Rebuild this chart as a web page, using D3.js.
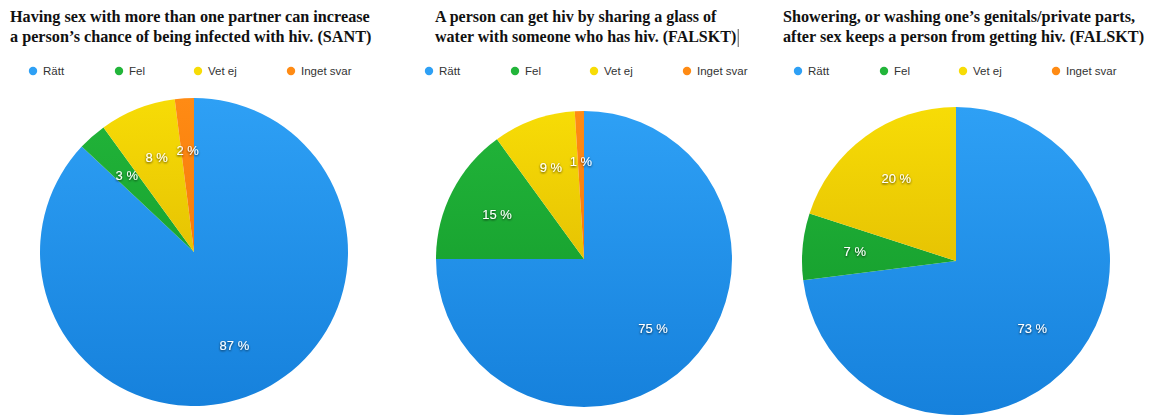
<!DOCTYPE html>
<html>
<head>
<meta charset="utf-8">
<script src="https://cdn.jsdelivr.net/npm/d3@7"></script>
<style>
  body { margin: 0; background: #fff; }
  svg { display: block; }
</style>
</head>
<body>
<svg id="chart" width="1154" height="415"></svg>
<script>
// answer categories (legend + slice order, clockwise from 12 o'clock)
const categories = ["Rätt", "Fel", "Vet ej", "Inget svar"];

const titles1 = ["Having sex with more than one partner can increase", "a person\u2019s chance of being infected with hiv. (SANT)"];
const titles2 = ["A person can get hiv by sharing a glass of", "water with someone who has hiv. (FALSKT)"];
const titles3 = ["Showering, or washing one\u2019s genitals/private parts,", "after sex keeps a person from getting hiv. (FALSKT)"];

const values1 = [87, 3, 8, 2];
const values2 = [75, 15, 9, 1];
const values3 = [73, 7, 20, 0];

const colorsTop = ["#2ea0f5", "#22b53a", "#f7dc06", "#ff8b14"];
const colorsBottom = ["#1681dc", "#119528", "#d6ab00", "#ee6a00"];

const charts = [
  { id: 0, title: titles1, values: values1, titleX: 10, cx: 194, cy: 252, r: 154, legendX: 33 },
  { id: 1, title: titles2, values: values2, titleX: 435, cx: 584, cy: 259, r: 148, legendX: 429, cursor: true },
  { id: 2, title: titles3, values: values3, titleX: 783, cx: 956, cy: 261, r: 154, legendX: 798 }
];

const legendOffsets = [0, 86, 165, 258];

const svg = d3.select("#chart");
const defs = svg.append("defs");

// soft dark shadow under the white percentage labels
const shadow = defs.append("filter").attr("id", "lblShadow")
  .attr("x", "-30%").attr("y", "-30%").attr("width", "160%").attr("height", "160%");
shadow.append("feDropShadow")
  .attr("dx", 0).attr("dy", 1).attr("stdDeviation", 0.8)
  .attr("flood-color", "#000").attr("flood-opacity", 0.75);

const pie = d3.pie().sort(null).value(d => d);

charts.forEach(c => {
  // vertical gradients per colour, relative to the pie group
  categories.forEach((cat, i) => {
    const g = defs.append("linearGradient")
      .attr("id", `grad-${c.id}-${i}`)
      .attr("gradientUnits", "userSpaceOnUse")
      .attr("x1", 0).attr("x2", 0)
      .attr("y1", -c.r).attr("y2", c.r);
    g.append("stop").attr("offset", "0%").attr("stop-color", colorsTop[i]);
    g.append("stop").attr("offset", "100%").attr("stop-color", colorsBottom[i]);
  });

  // title (bold serif, two lines)
  const t = svg.append("text")
    .attr("x", c.titleX).attr("y", 22)
    .attr("font-family", "'Liberation Serif', 'Times New Roman', serif")
    .attr("font-weight", "bold")
    .attr("font-size", c.id === 1 ? 16 : 16.2)
    .attr("fill", "#111");
  c.title.forEach((line, k) => {
    t.append("tspan").attr("x", c.titleX).attr("dy", k === 0 ? 0 : 19.5).text(line);
  });

  if (c.cursor) {
    const bb = t.node().getBBox();
    svg.append("line")
      .attr("x1", bb.x + bb.width + 2).attr("x2", bb.x + bb.width + 2)
      .attr("y1", 29).attr("y2", 47)
      .attr("stroke", "#555").attr("stroke-width", 1);
  }

  // legend
  const leg = svg.append("g").attr("transform", `translate(${c.legendX},71)`);
  categories.forEach((cat, i) => {
    const item = leg.append("g").attr("transform", `translate(${legendOffsets[i]},0)`);
    item.append("circle").attr("r", 4.2).attr("cx", 0).attr("cy", 0)
      .attr("fill", colorsTop[i]);
    item.append("text").attr("x", 10).attr("y", 4)
      .attr("font-family", "'Liberation Sans', Arial, sans-serif")
      .attr("font-size", 11.5)
      .attr("fill", "#333")
      .text(cat);
  });

  // pie
  const arcs = pie(c.values);
  const arc = d3.arc().innerRadius(0).outerRadius(c.r);
  const labelArc = d3.arc().innerRadius(c.r * 0.66).outerRadius(c.r * 0.66);

  const g = svg.append("g").attr("transform", `translate(${c.cx},${c.cy})`);

  g.selectAll("path")
    .data(arcs)
    .enter()
    .append("path")
    .attr("d", arc)
    .attr("fill", (d, i) => `url(#grad-${c.id}-${i})`);

  g.selectAll("text.pct")
    .data(arcs.filter(d => d.data > 0))
    .enter()
    .append("text")
    .attr("class", "pct")
    .attr("transform", d => `translate(${labelArc.centroid(d)})`)
    .attr("text-anchor", "middle")
    .attr("dy", "0.35em")
    .attr("font-family", "'Liberation Sans', Arial, sans-serif")
    .attr("font-size", 13)
    .attr("fill", "#fff")
    .attr("filter", "url(#lblShadow)")
    .text(d => `${d.data} %`);
});
</script>
</body>
</html>
